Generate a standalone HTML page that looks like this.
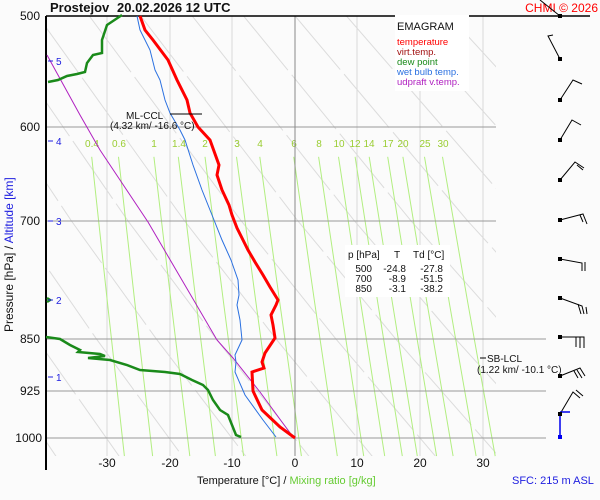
<!DOCTYPE html>
<html><head><meta charset="utf-8"><style>
body{margin:0;background:#fbfbfb;}
svg{display:block;font-family:"Liberation Sans",sans-serif;}
</style></head><body>
<svg width="600" height="500" viewBox="0 0 600 500" xmlns="http://www.w3.org/2000/svg">
<rect width="600" height="500" fill="#fbfbfb"/>
<defs>
<clipPath id="c"><rect x="47" y="16" width="499" height="440"/></clipPath>
<clipPath id="c2"><rect x="47" y="16" width="449" height="440"/></clipPath>
</defs>
<g clip-path="url(#c)" fill="none">
<g stroke="#d8d8d8">
<line x1="107" x2="107" y1="16" y2="456"/><line x1="170" x2="170" y1="16" y2="456"/><line x1="232" x2="232" y1="16" y2="456"/>
<line x1="357" x2="357" y1="16" y2="456"/><line x1="420" x2="420" y1="16" y2="456"/><line x1="483" x2="483" y1="16" y2="456"/>
</g>
</g>
<g clip-path="url(#c2)" fill="none">
<g stroke="#dcdcdc" stroke-dasharray="70,6">
<polyline points="-219.3,16 -98.4,220.9 -23.1,339.2 63.8,467.8"/>
<polyline points="-167.9,16 -41.8,220.9 36.8,339.2 127.3,467.8"/>
<polyline points="-116.4,16 14.8,220.9 96.6,339.2 190.9,467.8"/>
<polyline points="-65,16 71.4,220.9 156.5,339.2 254.6,467.8"/>
<polyline points="-13.5,16 128,220.9 216.4,339.2 318.1,467.8"/>
<polyline points="37.9,16 184.6,220.9 276.2,339.2 381.7,467.8"/>
<polyline points="89.3,16 241.3,220.9 336.1,339.2 445.3,467.8"/>
<polyline points="140.8,16 297.9,220.9 395.9,339.2 508.9,467.8"/>
<polyline points="192.2,16 354.5,220.9 455.8,339.2 572.4,467.8"/>
<polyline points="243.6,16 411.1,220.9 515.6,339.2 636,467.8"/>
<polyline points="295.1,16 467.7,220.9 575.5,339.2 699.6,467.8"/>
<polyline points="346.5,16 524.4,220.9 635,339.2"/>
<polyline points="398,16 581,220.9"/>
<polyline points="449.4,16 637.6,220.9"/>
</g>
</g>
<g fill="none" stroke="#b2ee80">
<polyline points="91.7,156.8 107.4,302.2 124.4,456.1"/>
<polyline points="118.5,156.8 134.8,302.2 152.6,456.1"/>
<polyline points="153.9,156.8 171.1,302.2 189.8,456.1"/>
<polyline points="178.3,156.8 196.1,302.2 215.4,456.1"/>
<polyline points="205,156.8 223.5,302.2 243.6,456.1"/>
<polyline points="236.5,156.8 255.9,302.2 276.9,456.1"/>
<polyline points="259.8,156.8 279.7,302.2 301.4,456.1"/>
<polyline points="293.7,156.8 314.6,302.2 337.3,456.1"/>
<polyline points="318.6,156.8 340.2,302.2 363.7,456.1"/>
<polyline points="338.5,156.8 360.6,302.2 384.7,456.1"/>
<polyline points="355.1,156.8 377.7,302.2 402.3,456.1"/>
<polyline points="369.2,156.8 392.3,302.2 417.3,456.1"/>
<polyline points="387.7,156.8 411,302.2 436.6,456.1"/>
<polyline points="402.9,156.8 426.9,302.2 453.1,456.1"/>
<polyline points="424.5,156.8 449.2,302.2 476.1,456.1"/>
<polyline points="442.5,156.8 467.7,302.2 495.2,456.1"/>
</g>
<g font-size="10" fill="#9acd32" text-anchor="middle">
<text x="92" y="147">0.4</text><text x="119" y="147">0.6</text><text x="154" y="147">1</text><text x="179" y="147">1.4</text>
<text x="205" y="147">2</text><text x="237" y="147">3</text><text x="260" y="147">4</text><text x="294" y="147">6</text>
<text x="319" y="147">8</text><text x="339" y="147">10</text><text x="355" y="147">12</text><text x="369" y="147">14</text>
<text x="388" y="147">17</text><text x="403" y="147">20</text><text x="425" y="147">25</text><text x="443" y="147">30</text>
</g>
<g stroke="#999" stroke-width="1">
<line x1="46" x2="496" y1="127" y2="127"/><line x1="46" x2="496" y1="221" y2="221"/>
<line x1="46" x2="546" y1="339" y2="339"/><line x1="46" x2="546" y1="391" y2="391"/>
<line x1="46" x2="546" y1="438" y2="438"/>
<line x1="295" x2="295" y1="16" y2="456" stroke="#888"/>
</g>
<line x1="46" x2="590" y1="16" y2="16" stroke="#000" stroke-width="1.5"/>
<line x1="46" x2="46" y1="16" y2="470" stroke="#000" stroke-width="2"/>
<rect x="395" y="15" width="74" height="76" fill="#fff"/>
<text x="397" y="30" font-size="11" fill="#111">EMAGRAM</text>
<g font-size="9.5">
<text x="397" y="45" fill="#f00">temperature</text>
<text x="397" y="55" fill="#a01010">virt.temp.</text>
<text x="397" y="65" fill="#1a8a1a">dew point</text>
<text x="397" y="75" fill="#2a70e0">wet bulb temp.</text>
<text x="397" y="85" fill="#b020c0">udpraft v.temp.</text>
</g>
<rect x="345" y="245" width="105" height="52" fill="#fff"/>
<g font-size="10" fill="#111">
<text x="348" y="258">p [hPa]</text><text x="394" y="258">T</text><text x="413" y="258">Td [°C]</text>
<g text-anchor="end">
<text x="372" y="272">500</text><text x="406" y="272">-24.8</text><text x="443" y="272">-27.8</text>
<text x="372" y="282">700</text><text x="406" y="282">-8.9</text><text x="443" y="282">-51.5</text>
<text x="372" y="292">850</text><text x="406" y="292">-3.1</text><text x="443" y="292">-38.2</text>
</g></g>
<polyline fill="none" stroke="#b020c0" stroke-width="1" points="47,55 80,115 100,150 148,222 217,340 233,358 260,392 293,437"/>
<polyline fill="none" stroke="#2a70e0" stroke-width="1" points="137,16 140,30 150,50 155,70 160,80 165,100 170,113 180,130 185,140 193,165 202,190 212,215 222,240 231,260 238,280 239,295 237,305 240,320 242,340 235,355 236,362 235,372 245,395 263,420 276,437"/>
<polyline fill="none" stroke="#f00" stroke-width="3" points="140,16 145,30 153,40 168,60 177,80 187,100 190,113 198,127 210,140 219,165 217,175 222,190 229,205 232,215 237,228 243,240 248,250 255,262 263,275 270,287 278,300 276,305 271,315 273,325 275,338 265,353 262,362 264,368 252,372 253,391 262,410 280,427 295,438"/>
<polyline fill="none" stroke="#1a8a1a" stroke-width="2.5" points="122,15 107,25 102,40 102,53 93,55 87,63 85,72 77,74 67,76 58,80 48,82"/>
<polyline fill="none" stroke="#1a8a1a" stroke-width="2.5" points="47,298 50,300 47,302"/>
<polyline fill="none" stroke="#1a8a1a" stroke-width="2.5" points="46,337 60,339 70,345 80,350 78,352 100,354 105,356 88,358 110,360 127,365 140,370 165,372 180,374 192,380 203,385 208,390 213,400 220,410 228,415 232,425 236,435 241,437"/>
<line x1="170" x2="202" y1="114" y2="114" stroke="#000"/>
<text x="126" y="119" font-size="10" fill="#111">ML-CCL</text>
<text x="110" y="129" font-size="10" fill="#111">(4.32 km/ -16.6 °C)</text>
<line x1="480" x2="486" y1="358" y2="358" stroke="#000"/>
<text x="487" y="362" font-size="10" fill="#111">SB-LCL</text>
<text x="477" y="373" font-size="10" fill="#111">(1.22 km/ -10.1 °C)</text>
<g fill="#2020e0" font-size="10" stroke="#2020e0">
<line x1="48" x2="53" y1="61" y2="61"/><text x="56" y="65" stroke="none">5</text>
<line x1="48" x2="53" y1="141" y2="141"/><text x="56" y="145" stroke="none">4</text>
<line x1="48" x2="53" y1="221" y2="221"/><text x="56" y="225" stroke="none">3</text>
<line x1="48" x2="53" y1="300" y2="300"/><text x="56" y="304" stroke="none">2</text>
<line x1="48" x2="53" y1="377" y2="377"/><text x="56" y="381" stroke="none">1</text>
</g>
<g font-size="12" fill="#111" text-anchor="end">
<text x="40" y="20">500</text><text x="40" y="131">600</text><text x="40" y="225">700</text>
<text x="40" y="343">850</text><text x="40" y="395">925</text><text x="42" y="442">1000</text>
</g>
<g font-size="12" fill="#111" text-anchor="middle">
<text x="107" y="467">-30</text><text x="170" y="467">-20</text><text x="232" y="467">-10</text>
<text x="295" y="467">0</text><text x="357" y="467">10</text><text x="420" y="467">20</text><text x="483" y="467">30</text>
</g>
<text x="197" y="484" font-size="11" fill="#111">Temperature [°C]  /  <tspan fill="#66cc33">Mixing ratio [g/kg]</tspan></text>
<text x="512" y="484" font-size="11" fill="#2020e0">SFC: 215 m ASL</text>
<text transform="translate(13,332) rotate(-90)" font-size="12" fill="#111">Pressure [hPa]  /  <tspan fill="#2020e0">Altitude [km]</tspan></text>
<text x="50" y="12" font-size="13" font-weight="bold" fill="#111">Prostejov</text>
<text x="117" y="12" font-size="13" font-weight="bold" fill="#111">20.02.2026 12 UTC</text>
<text x="598" y="12" font-size="12" fill="#f00" text-anchor="end">CHMI © 2026</text>
<g stroke="#000" stroke-width="1" fill="none">
<path d="M560,16 L540,0"/>
<path d="M560,59 L548,36 L553,35"/>
<path d="M560,100 L573,80 L582,84"/>
<path d="M560,140 L572,120 L581,125"/>
<path d="M560,180 L575,162 L584,168 M577,165 L583,170"/>
<path d="M560,220 L583,214 L587,224 M580,215 L583,222"/>
<path d="M560,259 L582,263 L582,271 M585,262 L585,271"/>
<path d="M560,298 L582,306 L584,314 M578,304 L581,314 M586,307 L587,314"/>
<path d="M560,337 L584,337 L584,348 M580,337 L580,348 M576,337 L576,347"/>
<path d="M560,376 L580,368 L585,376 M577,370 L582,378 M574,371 L578,378"/>
<path d="M560,414 L573,392 L580,398 M576,390 L583,396"/>
<path d="M560,414 L560,437 M560,412 L570,412" stroke="#0000ee" stroke-width="1.5"/>
</g>
<g fill="#000"><rect x="558" y="14" width="4" height="4"/><rect x="558" y="57" width="4" height="4"/><rect x="558" y="98" width="4" height="4"/><rect x="558" y="138" width="4" height="4"/><rect x="558" y="178" width="4" height="4"/><rect x="558" y="218" width="4" height="4"/><rect x="558" y="257" width="4" height="4"/><rect x="558" y="296" width="4" height="4"/><rect x="558" y="335" width="4" height="4"/><rect x="558" y="374" width="4" height="4"/><rect x="558" y="412" width="4" height="4"/><rect x="558" y="435" width="4" height="4" fill="#0000ee"/></g>
</svg>
</body></html>
